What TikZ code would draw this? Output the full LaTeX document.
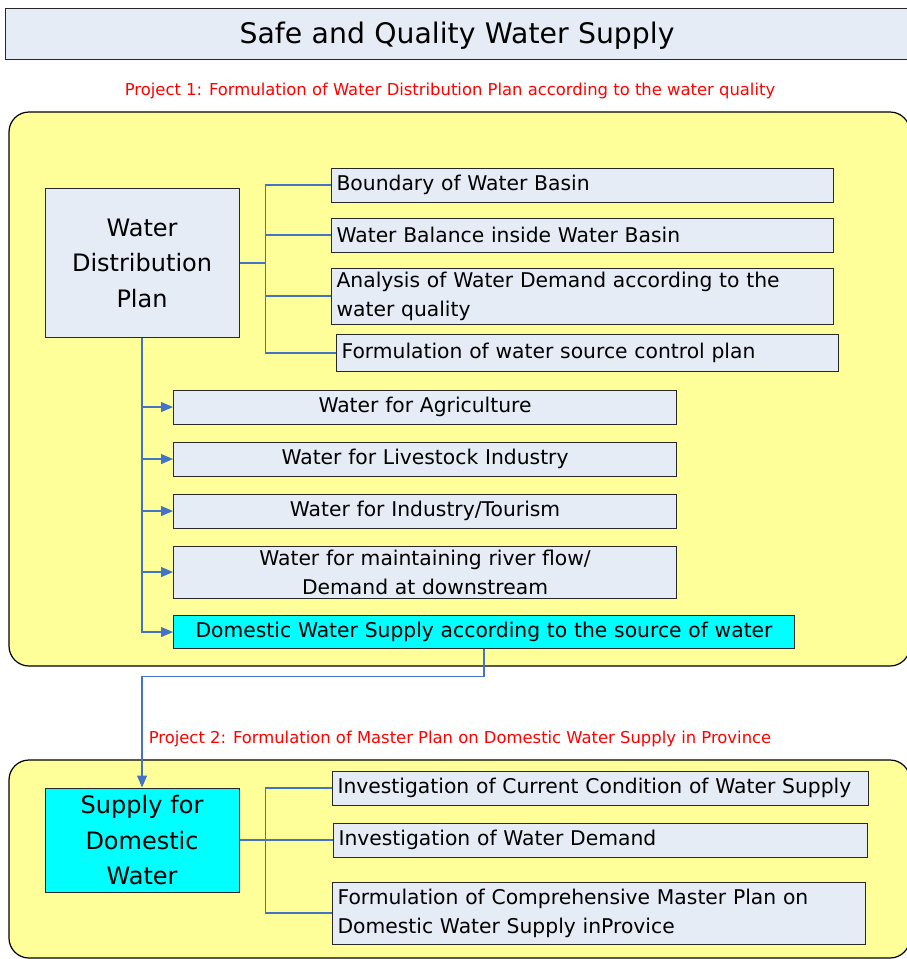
\documentclass[tikz,border=0pt]{standalone}
\usepackage{fontspec}
\setmainfont{DejaVu Sans}
\usetikzlibrary{arrows.meta}
\definecolor{boxfill}{RGB}{230,236,246}
\definecolor{yel}{RGB}{255,255,153}
\definecolor{cyanfill}{RGB}{0,255,255}
\definecolor{connblue}{RGB}{68,114,196}
\definecolor{redtext}{RGB}{255,0,0}
\definecolor{edge}{RGB}{40,40,40}
\begin{document}
\begin{tikzpicture}[x=1pt,y=-1pt,
  box/.style={draw=edge, line width=1.1pt, fill=boxfill, anchor=north west,
    inner xsep=5pt, inner ysep=0pt, font=\fontsize{20.3}{29}\selectfont},
  bigbox/.style={box, font=\fontsize{24}{35.5}\selectfont, align=center},
  cyanbox/.style={fill=cyanfill},
  panel/.style={draw=black, line width=1.2pt, fill=yel, rounded corners=20pt},
  conn/.style={draw=connblue, line width=1.2pt},
  arr/.style={conn, -{Triangle[length=12pt,width=10pt,fill=connblue]}},
  red/.style={text=redtext, font=\fontsize{16.4}{19}\selectfont}
]
\useasboundingbox (0,0) rectangle (906,959);

% title
\node[box, font=\fontsize{28.3}{32}\selectfont, minimum width=903pt, minimum height=51pt, align=center, text width=893pt, text depth=2pt] (title) at (5,8) {Safe and Quality Water Supply};

\node[red] (p1) at (450,91) {Project 1: Formulation of Water Distribution Plan according to the water quality};

% panels
\path[panel] (9,112) rectangle (910,666);
\path[panel] (9,760) rectangle (910,958);

% project 1
\node[bigbox, minimum width=194pt, minimum height=149pt, text width=184pt] (wdp) at (44.5,188) {Water\\Distribution\\Plan};

\node[box, minimum width=502pt, minimum height=34pt, text width=492pt, align=left] (b1) at (331,167.5) {Boundary of Water Basin};
\node[box, minimum width=502pt, minimum height=34pt, text width=492pt, align=left] (b2) at (331,217.5) {Water Balance inside Water Basin};
\node[box, minimum width=502pt, minimum height=56pt, text width=492pt, align=left] (b3) at (331,267.5) {Analysis of Water Demand according to the\\water quality};
\node[box, minimum width=502pt, minimum height=37pt, text width=492pt, align=left] (b4) at (336,334) {Formulation of water source control plan};

\node[box, minimum width=503pt, minimum height=34pt, text width=493pt, align=center] (a1) at (173,389.5) {Water for Agriculture};
\node[box, minimum width=503pt, minimum height=34pt, text width=493pt, align=center] (a2) at (173,441.5) {Water for Livestock Industry};
\node[box, minimum width=503pt, minimum height=34pt, text width=493pt, align=center] (a3) at (173,493.5) {Water for Industry/Tourism};
\node[box, minimum width=503pt, minimum height=52pt, text width=493pt, align=center] (a4) at (173,545.5) {Water for maintaining river flow/\\Demand at downstream};
\node[box, cyanbox, minimum width=621pt, minimum height=33pt, text width=611pt, align=center] (a5) at (173,615) {Domestic Water Supply according to the source of water};

\coordinate (j1) at ([xshift=26pt]wdp.east);
\draw[conn] (wdp.east) -- (j1);
\foreach \n in {b1,b2,b3,b4} \draw[conn] (\n.west) -| (j1);
\foreach \n in {a1,a2,a3,a4,a5} \draw[arr] (wdp.south) |- (\n.west);

% project 2
\node[red] (p2) at (460,739) {Project 2: Formulation of Master Plan on Domestic Water Supply in Province};

\node[bigbox, cyanbox, minimum width=194pt, minimum height=104pt, text width=184pt] (sup) at (44.5,787.5) {Supply for\\Domestic\\Water};

\node[box, minimum width=536pt, minimum height=34pt, text width=526pt, align=left] (c1) at (332,770.5) {Investigation of Current Condition of Water Supply};
\node[box, minimum width=534pt, minimum height=34pt, text width=524pt, align=left] (c2) at (333,822.5) {Investigation of Water Demand};
\node[box, minimum width=533pt, minimum height=62pt, text width=523pt, align=left] (c3) at (332,881.5) {Formulation of Comprehensive Master Plan on\\Domestic Water Supply inProvice};

\coordinate (j2) at ([xshift=26pt]sup.east);
\draw[conn] (sup.east) -- (j2);
\foreach \n in {c1,c2,c3} \draw[conn] (\n.west) -| (j2);

\draw[arr] (a5.south) -- ++(0,27.5) -| (sup.north);
\end{tikzpicture}
\end{document}
